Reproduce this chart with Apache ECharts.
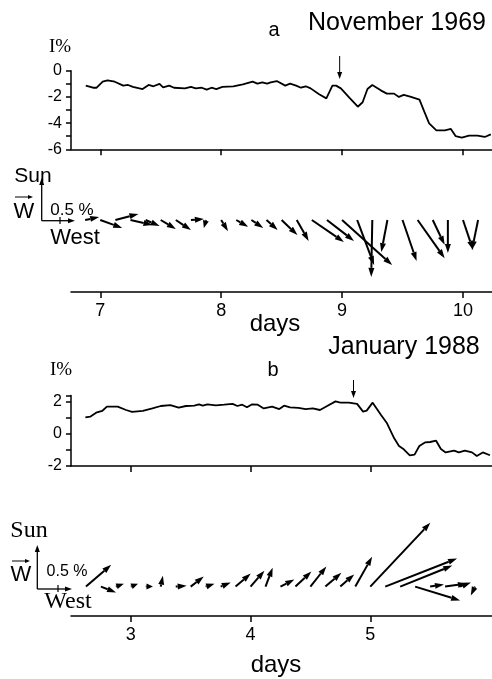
<!DOCTYPE html>
<html>
<head>
<meta charset="utf-8">
<script src="https://cdn.jsdelivr.net/npm/echarts@6/dist/echarts.min.js"></script>
<style>
  html, body { margin: 0; padding: 0; background: #fff; }
  #chart { width: 492px; height: 679px; }
</style>
</head>
<body>
<div id="chart"></div>
<script>
// ---- panel a: November 1969 ----
const daysA = [6.88, 6.94, 6.97, 7.02, 7.06, 7.12, 7.19, 7.23, 7.27, 7.35, 7.40, 7.44, 7.49, 7.52, 7.57,
  7.61, 7.70, 7.75, 7.79, 7.84, 7.88, 7.92, 7.96, 8.01, 8.10, 8.18, 8.26, 8.30, 8.34, 8.38,
  8.41, 8.46, 8.53, 8.57, 8.62, 8.66, 8.70, 8.74, 8.81, 8.87, 8.92, 8.95, 8.99, 9.06, 9.13,
  9.17, 9.21, 9.25, 9.32, 9.37, 9.43, 9.47, 9.51, 9.57, 9.64, 9.68, 9.72, 9.78, 9.85, 9.90,
  9.94, 9.99, 10.05, 10.12, 10.18, 10.23]
const valuesA = [-1.14, -1.30, -1.30, -0.84, -0.73, -0.84, -1.14, -1.09, -1.24, -1.40, -1.09, -1.19, -1.00, -1.27, -1.14,
  -1.30, -1.35, -1.24, -1.35, -1.30, -1.45, -1.30, -1.40, -1.24, -1.19, -1.04, -0.84, -0.99, -0.89, -0.99,
  -0.89, -0.79, -1.14, -0.99, -1.14, -1.30, -1.19, -1.35, -1.80, -2.11, -1.14, -1.14, -1.35, -2.06, -2.75,
  -2.41, -1.40, -1.09, -1.50, -1.75, -1.75, -2.00, -1.85, -2.00, -2.21, -3.13, -4.02, -4.55, -4.55, -4.45,
  -5.00, -5.11, -4.96, -4.96, -5.06, -4.86]

// anisotropy vectors (%), West and Sun components
const vecTimesA = [6.875, 7, 7.125, 7.25, 7.375, 7.5, 7.625, 7.75, 7.875, 8, 8.125, 8.25, 8.375, 8.5,
  8.625, 8.75, 8.875, 9, 9.125, 9.25, 9.375, 9.5, 9.625, 9.75, 9.875, 10, 10.125]
const vecWestA = [0.39, 0.61, 0.64, 0.61, 0.39, 0.42, 0.42, 0.36, -0.06, 0.19, 0.33, 0.33, 0.31, 0.44,
  0.33, 0.89, 0.75, 1.39, 0.47, -0.03, -0.17, 0.39, 0.75, 0.33, 0, 0.28, -0.17]
const vecSunA = [0.08, -0.22, 0.17, -0.14, -0.17, -0.25, -0.28, 0.03, -0.22, -0.31, -0.19, -0.22, -0.28, -0.42,
  -0.58, -0.61, -0.58, -1.25, -1.25, -1.58, -0.89, -1.14, -1.06, -0.69, -0.92, -0.83, -0.83]

// ---- panel b: January 1988 ----
const daysB = [2.62, 2.66, 2.71, 2.76, 2.80, 2.89, 2.96, 3.01, 3.10, 3.18, 3.25, 3.33, 3.40, 3.46, 3.53,
  3.57, 3.60, 3.64, 3.71, 3.78, 3.85, 3.89, 3.93, 3.97, 4.01, 4.06, 4.11, 4.18, 4.24, 4.28,
  4.33, 4.40, 4.46, 4.52, 4.58, 4.64, 4.71, 4.75, 4.82, 4.89, 4.94, 4.97, 5.02, 5.09, 5.14,
  5.20, 5.24, 5.28, 5.33, 5.37, 5.41, 5.46, 5.50, 5.55, 5.59, 5.63, 5.70, 5.74, 5.79, 5.85,
  5.89, 5.94, 6.00]
const valuesB = [1.04, 1.08, 1.33, 1.44, 1.71, 1.71, 1.50, 1.38, 1.44, 1.60, 1.75, 1.81, 1.65, 1.75, 1.77,
  1.85, 1.77, 1.85, 1.79, 1.83, 1.88, 1.75, 1.83, 1.67, 1.85, 1.83, 1.60, 1.71, 1.56, 1.77,
  1.67, 1.63, 1.56, 1.60, 1.50, 1.75, 2.04, 1.96, 1.96, 1.88, 1.40, 1.46, 1.96, 1.19, 0.67,
  -0.27, -0.75, -0.96, -1.33, -1.29, -0.75, -0.52, -0.50, -0.42, -0.94, -1.15, -1.04, -1.15, -1.04, -1.15,
  -1.38, -1.15, -1.33]

const vecTimesB = [2.625, 2.75, 2.875, 3, 3.125, 3.25, 3.375, 3.5, 3.625, 3.75, 3.875, 4, 4.125, 4.25,
  4.375, 4.5, 4.625, 4.75, 4.875, 5, 5.125, 5.25, 5.375, 5.5, 5.625, 5.75, 5.875]
const vecWestB = [0.60, 0.36, 0.19, 0.17, 0.17, 0.05, 0.26, 0.31, 0.21, 0.24, 0.36, 0.33, 0.17, 0.33,
  0.38, 0.38, 0.38, 0.33, 0.40, 1.43, 1.71, 1.24, 1.07, 0.33, 0.52, 0.26, -0.10]
const vecSunB = [0.52, -0.14, 0.07, 0.07, 0, 0.26, 0.02, 0.24, 0.07, 0.10, 0.31, 0.38, 0.45, 0.17,
  0.36, 0.48, 0.33, 0.29, 0.71, 1.52, 0.67, 0.50, -0.33, 0.05, 0.07, 0.10, -0.21]

const tickDaysA = [7, 8, 9, 10]
const tickDaysB = [3, 4, 5]
const eventDays = [8.98, 4.86]

const FONT = '"Liberation Sans", Arial, sans-serif'
const SERIF = '"Liberation Serif", "Times New Roman", serif'

const zip = (xs, ys) => xs.map((x, i) => [x, ys[i]])
const zip3 = (xs, a, b) => xs.map((x, i) => [x, a[i], b[i]])

// line + filled head, used for the vectors and the small legend arrows
function arrowShape(x1, y1, x2, y2, lw, hl, hw) {
  const dx = x2 - x1
  const dy = y2 - y1
  const len = Math.hypot(dx, dy) || 1
  const ux = dx / len
  const uy = dy / len
  const h = Math.min(hl, len * 0.9)
  const bx = x2 - ux * h
  const by = y2 - uy * h
  return {
    type: 'group',
    children: [
      { type: 'line', shape: { x1: x1, y1: y1, x2: bx, y2: by }, style: { stroke: '#000', lineWidth: lw } },
      {
        type: 'polygon',
        shape: { points: [[x2, y2], [bx - uy * hw, by + ux * hw], [bx + uy * hw, by - ux * hw]] },
        style: { fill: '#000' }
      }
    ]
  }
}

function renderVector(params, api) {
  const base = api.coord([api.value(0), 0])
  const unit = api.size([0, 1])[1]
  const ex = base[0] + api.value(1) * unit
  const ey = base[1] - api.value(2) * unit
  return arrowShape(base[0], base[1], ex, ey, 2, 9, 3)
}

const axisLineStyle = { color: '#000', width: 1.5 }

function dayAxis(gridIndex, min, max, ticks, withLabels) {
  return {
    type: 'value',
    gridIndex: gridIndex,
    min: min,
    max: max,
    axisLine: { show: true, onZero: false, lineStyle: axisLineStyle },
    axisTick: { show: true, length: 6, customValues: ticks, lineStyle: axisLineStyle },
    axisLabel: {
      show: withLabels,
      customValues: ticks,
      margin: 10,
      color: '#000',
      fontSize: 18,
      fontFamily: FONT
    },
    splitLine: { show: false }
  }
}

function intensityAxis(gridIndex, min, max) {
  return {
    type: 'value',
    gridIndex: gridIndex,
    min: min,
    max: max,
    interval: 1,
    axisLine: { show: true, onZero: false, lineStyle: axisLineStyle },
    axisTick: { show: true, length: 5, lineStyle: axisLineStyle },
    axisLabel: {
      margin: 9,
      color: '#000',
      fontSize: 16,
      fontFamily: FONT,
      formatter: v => (Number.isInteger(v) && v % 2 === 0 ? String(v) : '')
    },
    splitLine: { show: false }
  }
}

function hiddenAxis(gridIndex, min, max) {
  return { type: 'value', gridIndex: gridIndex, min: min, max: max, show: false, splitLine: { show: false } }
}

const chart = echarts.init(document.getElementById('chart'))

chart.setOption({
  animation: false,
  backgroundColor: '#fff',
  textStyle: { fontFamily: FONT, color: '#000' },
  grid: [
    { left: 71, right: 0, top: 70.7, height: 78.6 },
    { left: 71, right: 0, top: 166, height: 126 },
    { left: 71, right: 0, top: 395.6, height: 70.4 },
    { left: 71, right: 0, top: 490, height: 126 }
  ],
  xAxis: [
    dayAxis(0, 6.758, 10.24, tickDaysA, false),
    dayAxis(1, 6.758, 10.24, tickDaysA, true),
    dayAxis(2, 2.5, 6.017, tickDaysB, false),
    dayAxis(3, 2.5, 6.017, tickDaysB, true)
  ],
  yAxis: [
    intensityAxis(0, -6, 0),
    hiddenAxis(1, -2, 1.5),
    intensityAxis(2, -2, 2.4),
    hiddenAxis(3, -0.7, 2.3)
  ],
  series: [
    {
      type: 'line',
      xAxisIndex: 0,
      yAxisIndex: 0,
      data: zip(daysA, valuesA),
      showSymbol: false,
      lineStyle: { color: '#000', width: 1.8 }
    },
    {
      type: 'custom',
      xAxisIndex: 1,
      yAxisIndex: 1,
      clip: false,
      data: zip3(vecTimesA, vecWestA, vecSunA),
      renderItem: renderVector
    },
    {
      type: 'line',
      xAxisIndex: 2,
      yAxisIndex: 2,
      data: zip(daysB, valuesB),
      showSymbol: false,
      lineStyle: { color: '#000', width: 1.8 }
    },
    {
      type: 'custom',
      xAxisIndex: 3,
      yAxisIndex: 3,
      clip: false,
      data: zip3(vecTimesB, vecWestB, vecSunB),
      renderItem: renderVector
    }
  ]
})

function label(text, x, y, size, family) {
  return {
    type: 'text',
    x: x,
    y: y,
    style: {
      text: text,
      font: size + 'px ' + (family || FONT),
      fill: '#000',
      align: 'center',
      verticalAlign: 'middle',
      textAlign: 'center',
      textVerticalAlign: 'middle'
    }
  }
}

// event markers above the intensity curves
const evA = chart.convertToPixel({ xAxisIndex: 0 }, eventDays[0])
const evB = chart.convertToPixel({ xAxisIndex: 2 }, eventDays[1])

chart.setOption({
  graphic: [
    label('a', 274, 30, 20),
    label('November 1969', 397, 23, 25),
    label('I%', 60, 47, 19, SERIF),
    arrowShape(evA, 56, evA, 79, 1, 7, 2.5),
    label('days', 275, 324, 24),

    label('Sun', 33, 176, 21),
    label('W', 24, 212, 22),
    arrowShape(15, 197, 33, 197, 1, 5, 2),
    label('0.5 %', 72, 210, 17),
    label('West', 75, 238, 22),
    arrowShape(41.7, 220.7, 41.7, 178, 1.3, 7, 2.5),
    arrowShape(41.7, 220.7, 75, 220.7, 1.3, 7, 2.5),
    { type: 'line', shape: { x1: 60, y1: 217, x2: 60, y2: 224 }, style: { stroke: '#000', lineWidth: 1.2 } },

    label('January 1988', 404, 347, 25),
    label('b', 273, 370, 20),
    label('I%', 61, 370, 19, SERIF),
    arrowShape(evB, 380, evB, 398, 1, 7, 2.5),
    label('days', 276, 665, 24),

    label('Sun', 29, 531, 24, SERIF),
    label('W', 21, 575, 22),
    arrowShape(12, 561, 30, 561, 1, 5, 2),
    label('0.5 %', 67, 572, 16),
    label('West', 68, 602, 24, SERIF),
    arrowShape(37.3, 589, 37.3, 545, 1.3, 7, 2.5),
    arrowShape(37.3, 589, 72, 589, 1.3, 7, 2.5),
    { type: 'line', shape: { x1: 58, y1: 585, x2: 58, y2: 592 }, style: { stroke: '#000', lineWidth: 1.2 } }
  ]
})
</script>
</body>
</html>
